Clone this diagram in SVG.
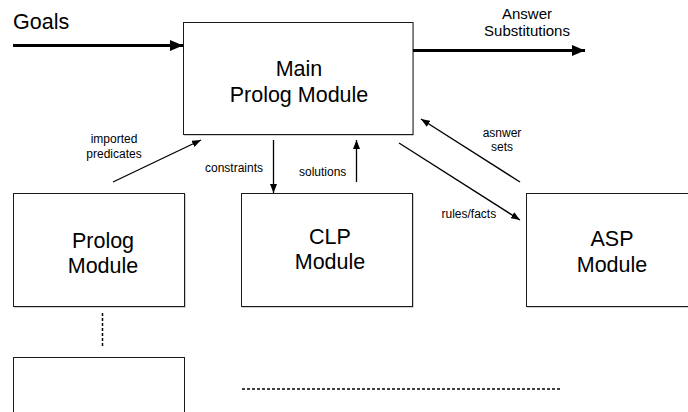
<svg xmlns="http://www.w3.org/2000/svg" width="688" height="412" viewBox="0 0 688 412">
<style>
.box{fill:#fff;stroke:#1a1a1a;stroke-width:1}
.shadow{fill:none;stroke:#d0d0d0;stroke-width:1}
.big{font-family:"Liberation Sans",Arial,sans-serif;font-size:21.5px;fill:#000}
.mid{font-family:"Liberation Sans",Arial,sans-serif;font-size:15px;fill:#000}
.small{font-family:"Liberation Sans",Arial,sans-serif;font-size:12px;fill:#000}
.thick{stroke:#000;stroke-width:3;fill:none}
.thin{stroke:#000;stroke-width:1.3;fill:none}
.dot{stroke:#000;stroke-width:1.5;stroke-dasharray:3 2;fill:none}
</style>
<defs>
<marker id="headBig" markerUnits="userSpaceOnUse" markerWidth="13" markerHeight="11" refX="13" refY="5.5" orient="auto">
<path d="M0,0 L13,5.5 L0,11 z" fill="#000"/>
</marker>
<marker id="headSmall" markerUnits="userSpaceOnUse" markerWidth="9" markerHeight="7" refX="9" refY="3.5" orient="auto">
<path d="M0,0 L9,3.5 L0,7 z" fill="#000"/>
</marker>
</defs>
<rect width="688" height="412" fill="#fff"/>
<g id="main">
<polyline class="shadow" points="184,135.5 413.5,135.5 413.5,23"/>
<rect class="box" x="183.5" y="22.5" width="229.5" height="112"/>
<text class="big" x="299" y="75.5" text-anchor="middle">Main</text>
<text class="big" x="299" y="101.5" text-anchor="middle">Prolog Module</text>
</g>
<g id="prolog">
<polyline class="shadow" points="14,307.5 185.5,307.5 185.5,194"/>
<rect class="box" x="13.5" y="193.5" width="171" height="113"/>
<text class="big" x="103" y="248" text-anchor="middle">Prolog</text>
<text class="big" x="103" y="273" text-anchor="middle">Module</text>
</g>
<g id="clp">
<polyline class="shadow" points="242,307.5 413.5,307.5 413.5,194"/>
<rect class="box" x="241.5" y="193.5" width="171" height="113"/>
<text class="big" x="330" y="244" text-anchor="middle">CLP</text>
<text class="big" x="330" y="268.5" text-anchor="middle">Module</text>
</g>
<g id="asp">
<polyline class="shadow" points="527,307.5 688,307.5"/>
<rect class="box" x="526.5" y="193.5" width="170" height="113"/>
<text class="big" x="612" y="246" text-anchor="middle">ASP</text>
<text class="big" x="612" y="272" text-anchor="middle">Module</text>
</g>
<g id="lower">
<rect class="box" x="13.5" y="357.5" width="171" height="70"/>
</g>
<g id="connectors">
<line class="thick" x1="13" y1="45.5" x2="183" y2="45.5" marker-end="url(#headBig)"/>
<line class="thick" x1="413" y1="50.5" x2="585" y2="50.5" marker-end="url(#headBig)"/>
<line class="thin" x1="113" y1="182" x2="201" y2="140" marker-end="url(#headSmall)"/>
<line class="thin" x1="273.5" y1="140" x2="273.5" y2="193" marker-end="url(#headSmall)"/>
<line class="thin" x1="356.5" y1="182" x2="356.5" y2="140" marker-end="url(#headSmall)"/>
<line class="thin" x1="520" y1="182" x2="421" y2="119" marker-end="url(#headSmall)"/>
<line class="thin" x1="399" y1="143" x2="520" y2="220" marker-end="url(#headSmall)"/>
<line class="dot" x1="102.5" y1="313" x2="102.5" y2="347"/>
<line class="dot" x1="242" y1="389" x2="560" y2="389"/>
</g>
<g id="labels">
<text class="big" x="13" y="29">Goals</text>
<text class="mid" x="527" y="19" text-anchor="middle">Answer</text>
<text class="mid" x="527" y="36" text-anchor="middle">Substitutions</text>
<text class="small" x="114" y="142.5" text-anchor="middle">imported</text>
<text class="small" x="114" y="157.5" text-anchor="middle">predicates</text>
<text class="small" x="205" y="171.5">constraints</text>
<text class="small" x="299" y="176">solutions</text>
<text class="small" x="502" y="136.5" text-anchor="middle">asnwer</text>
<text class="small" x="502" y="150.5" text-anchor="middle">sets</text>
<text class="small" x="441.5" y="217.5">rules/facts</text>
</g>
</svg>
